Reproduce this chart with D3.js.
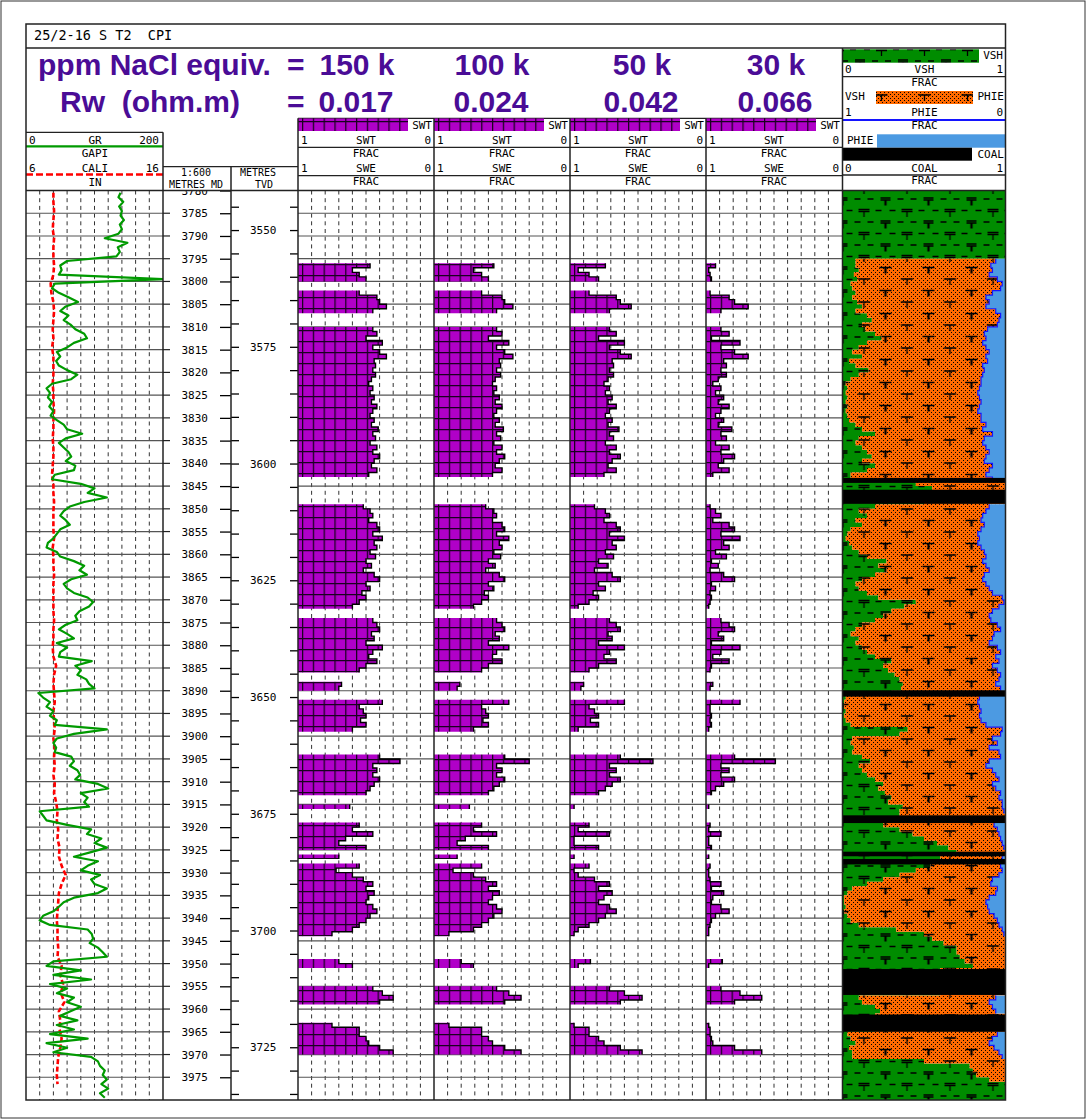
<!DOCTYPE html>
<html>
<head>
<meta charset="utf-8">
<title>25/2-16 S T2 CPI</title>
<script src="https://cdn.jsdelivr.net/npm/d3@7"></script>
<style>
  body { margin: 0; background: #fff; }
  svg text { font-family: "DejaVu Sans Mono", monospace; font-size: 11px; fill: #000; }
  svg text.big { font-family: "Liberation Sans", Arial, sans-serif; font-weight: bold; font-size: 30px; fill: #4a0c96; white-space: pre; }
  svg text.title { font-size: 13.5px; white-space: pre; }
  svg text.small { font-size: 10px; }
</style>
</head>
<body>
<svg id="chart" width="1087" height="1120"></svg>
<script>
var _ = null;
var DEPTH_TOP = 3780, DEPTH_BASE = 3980;

// header labels
var salinity = ["150 k", "100 k", "50 k", "30 k"];
var rw = ["0.017", "0.024", "0.042", "0.066"];

// MD / TVD tie points
var tvdTies = [3550, 3725];
var mdTies = [3788.7, 3968.4];

// GR (gapi), one value per metre from 3780
var gr = [
  138,135,142,136,140,138,143,137,140,135,
  115,148,134,137,132,60,50,52,48,200,
  42,38,48,62,76,58,50,62,55,65,
  72,85,89,70,60,45,50,44,48,60,
  75,66,38,30,35,32,38,34,40,36,
  45,55,60,82,58,48,55,62,66,58,
  72,70,42,38,80,100,90,118,85,64,
  55,50,58,64,50,45,40,32,30,45,
  50,70,85,78,89,66,55,60,70,90,
  98,92,78,72,75,58,48,60,70,45,
  60,50,48,96,72,80,75,88,92,100,
  18,25,35,30,40,35,45,42,118,70,
  45,40,44,42,66,70,64,75,79,72,
  105,120,80,90,85,92,20,25,30,60,
  95,89,110,100,118,95,70,105,90,80,
  108,95,100,118,105,70,55,48,40,25,
  20,35,90,96,98,93,105,112,118,40,
  30,80,40,95,35,60,45,70,60,80,
  65,50,75,45,70,35,90,30,60,40,
  95,105,108,115,112,118,110,120,108,115
];

// CALI (in), every 2 m from 3780
var cali = [
  8.0,8.0,8.05,8.0,7.95,8.05,8.0,8.0,8.05,8.0,
  7.8,7.85,8.0,8.05,8.0,7.95,8.0,7.9,8.0,8.0,
  8.0,7.95,8.0,8.0,8.05,8.0,8.0,7.95,8.0,8.0,
  7.95,7.9,8.0,8.0,8.05,8.0,8.0,8.0,8.05,7.95,
  8.0,8.0,8.05,8.0,8.0,8.0,8.0,8.05,8.0,8.0,
  7.95,8.0,8.2,8.05,8.0,8.05,8.1,8.0,8.05,8.1,
  8.0,8.1,8.05,8.1,8.0,8.1,8.05,8.2,8.3,8.25,
  8.35,8.3,8.45,8.4,8.6,8.9,8.6,8.4,8.35,8.3,
  8.25,8.3,8.3,8.35,8.3,8.6,8.5,8.7,8.55,8.8,
  8.4,8.5,8.45,8.6,8.5,8.35,8.3,8.25,8.3
];

// SWT (frac), one value per metre from 3780, for each water salinity
var swt150 = [
  _,_,_,_,_,_,_,_,_,_,
  _,_,_,_,_,_,.47,.60,.55,.50,
  _,_,.55,.42,.40,.35,.45,_,_,_,
  .45,.42,.50,.38,.45,.40,.35,.44,.43,.45,
  .43,.46,.48,.45,.47,.44,.46,.42,.45,.47,
  .44,.46,.41,.45,.43,.47,.42,.45,.40,.44,
  .46,.42,.48,_,_,_,_,_,_,.52,
  .47,.45,.48,.42,.40,.45,.38,.44,.42,.47,
  .43,.50,.46,.52,.44,.40,.50,.47,.53,.50,
  .55,.60,_,_,.45,.42,.40,.46,.44,.50,
  .38,.45,.48,.42,.50,.55,_,_,.68,.70,
  _,_,.38,.55,.52,.50,.54,.50,.60,_,
  _,_,_,_,.40,.25,.45,.42,.45,.40,
  .44,.47,.50,_,_,.62,_,_,_,.55,
  .60,.45,.65,.70,.50,_,.70,_,.55,.72,
  .60,.52,.45,.50,.44,.48,.50,.45,.42,.47,
  .50,.55,.60,.75,_,_,_,_,_,.70,
  .60,_,_,_,_,.45,.38,.30,.40,_,
  _,_,_,.75,.55,.55,.50,.48,.40,.30,
  _,_,_,_,_,_,_,_,_,_
];
var swt100 = [
  _,_,_,_,_,_,_,_,_,_,
  _,_,_,_,_,_,.56,.71,.65,.60,
  _,_,.65,.50,.48,.42,.54,_,_,_,
  .54,.50,.60,.45,.54,.48,.42,.52,.51,.54,
  .51,.55,.57,.54,.56,.52,.55,.50,.54,.56,
  .52,.55,.49,.54,.51,.56,.50,.54,.48,.52,
  .55,.50,.57,_,_,_,_,_,_,.62,
  .56,.54,.57,.50,.48,.54,.45,.52,.50,.56,
  .51,.60,.55,.62,.52,.48,.60,.56,.63,.60,
  .65,.71,_,_,.54,.50,.48,.55,.52,.60,
  .45,.54,.57,.50,.60,.65,_,_,.81,.83,
  _,_,.45,.65,.62,.60,.64,.60,.71,_,
  _,_,_,_,.48,.30,.54,.50,.54,.48,
  .52,.56,.60,_,_,.74,_,_,_,.65,
  .71,.54,.77,.83,.60,_,.83,_,.65,.86,
  .71,.62,.54,.60,.52,.57,.60,.54,.50,.56,
  .60,.65,.71,.89,_,_,_,_,_,.80,
  .71,_,_,_,_,.54,.45,.36,.48,_,
  _,_,_,.89,.65,.65,.60,.57,.48,.36,
  _,_,_,_,_,_,_,_,_,_
];
var swt50 = [
  _,_,_,_,_,_,_,_,_,_,
  _,_,_,_,_,_,.74,.94,.86,.79,
  _,_,.86,.66,.63,.55,.71,_,_,_,
  .71,.66,.79,.60,.71,.63,.55,.69,.68,.71,
  .68,.72,.75,.71,.74,.69,.72,.66,.71,.74,
  .69,.72,.64,.71,.68,.74,.66,.71,.63,.69,
  .72,.66,.75,_,_,_,_,_,_,.82,
  .74,.71,.75,.66,.63,.71,.60,.69,.66,.74,
  .68,.79,.72,.82,.69,.63,.79,.74,.83,.79,
  .86,.94,_,_,.71,.66,.63,.72,.69,.79,
  .60,.71,.75,.66,.79,.86,_,_,.90,.92,
  _,_,.60,.86,.82,.79,.85,.79,.94,_,
  _,_,_,_,.63,.39,.71,.66,.71,.63,
  .69,.74,.79,_,_,.97,_,_,_,.86,
  .94,.71,.97,.97,.79,_,.97,_,.86,.97,
  .94,.82,.71,.79,.69,.75,.79,.71,.66,.74,
  .79,.86,.94,.97,_,_,_,_,_,.85,
  .94,_,_,_,_,.71,.60,.47,.63,_,
  _,_,_,.97,.86,.86,.79,.75,.63,.47,
  _,_,_,_,_,_,_,_,_,_
];
var swt30 = [
  _,_,_,_,_,_,_,_,_,_,
  _,_,_,_,_,_,.93,.98,.97,.96,
  _,_,.97,.83,.79,.69,.89,_,_,_,
  .89,.83,.96,.75,.89,.79,.69,.87,.85,.89,
  .85,.91,.95,.89,.93,.87,.91,.83,.89,.93,
  .87,.91,.81,.89,.85,.93,.83,.89,.79,.87,
  .91,.83,.95,_,_,_,_,_,_,.97,
  .93,.89,.95,.83,.79,.89,.75,.87,.83,.93,
  .85,.96,.91,.97,.87,.79,.96,.93,.97,.96,
  .97,.98,_,_,.89,.83,.79,.91,.87,.96,
  .75,.89,.95,.83,.96,.97,_,_,.95,.97,
  _,_,.75,.97,.97,.96,.97,.96,.98,_,
  _,_,_,_,.79,.49,.89,.83,.89,.79,
  .87,.93,.96,_,_,.98,_,_,_,.97,
  .98,.89,.98,.98,.96,_,.98,_,.97,.98,
  .98,.97,.89,.96,.87,.95,.96,.89,.83,.93,
  .96,.97,.98,.98,_,_,_,_,_,.88,
  .98,_,_,_,_,.89,.75,.59,.79,_,
  _,_,_,.98,.97,.97,.96,.95,.79,.59,
  _,_,_,_,_,_,_,_,_,_
];

// VSH and PHIE (frac), one value per metre from 3780
var vsh = [
  1,1,1,1,1,1,1,1,1,1,
  1,1,1,1,1,.08,.08,.1,.07,.09,
  .05,.06,.08,.06,.09,.12,.08,.15,.18,.12,
  .14,.2,.24,.15,.1,.06,.12,.04,.08,.16,
  .1,.05,.02,.03,.02,.03,.02,.03,.02,.03,
  .04,.08,.12,.2,.1,.08,.12,.15,.18,.12,
  .2,.15,.05,.05,.45,.55,.5,.5,.5,.2,
  .1,.15,.08,.12,.05,.03,.02,.04,.06,.1,
  .15,.27,.22,.27,.2,.12,.08,.1,.15,.22,
  .45,.38,.3,.25,.2,.12,.08,.05,.1,.08,
  .12,.15,.2,.3,.25,.28,.32,.35,.37,.36,
  .3,.02,.01,.01,.02,.01,.02,.05,.4,.35,
  .06,.05,.07,.06,.12,.17,.1,.12,.15,.2,
  .25,.22,.26,.3,.28,.37,.35,.35,.3,.25,
  .35,.43,.5,.58,.65,.7,.6,.55,.54,.45,
  .35,.25,.15,.06,.03,.01,.01,.02,.01,.03,
  .05,.1,.33,.5,.55,.62,.7,.7,.72,.75,
  .8,.6,.6,.6,.6,.6,.6,.1,.12,.2,
  .23,.2,.2,.2,.2,.03,.05,.08,.04,.06,
  .06,.5,.78,.8,.82,.9,1,1,1,1
];
var phie = [
  0,0,0,0,0,0,0,0,0,0,
  0,0,0,0,0,.06,.09,.08,.1,.05,
  .02,.03,.08,.12,.1,.12,.06,.03,.04,.05,
  .11,.13,.12,.14,.12,.1,.12,.11,.14,.13,
  .14,.15,.15,.16,.17,.16,.15,.16,.17,.15,
  .15,.12,.14,.08,.13,.14,.12,.1,.12,.13,
  .08,.1,.12,.08,0,0,0,0,0,.1,
  .12,.14,.15,.13,.15,.17,.16,.17,.15,.13,
  .12,.14,.12,.1,.13,.14,.12,.1,.08,.02,
  .01,.04,.08,.1,.09,.05,.03,.07,.08,.1,
  .05,.03,.06,.04,.08,.05,.03,.04,.06,.03,
  0,.16,.17,.16,.15,.16,.15,.12,.02,.03,
  .08,.05,.1,.04,.03,.1,.12,.08,.06,.04,
  .08,.06,.03,.04,.02,.02,.01,0,0,.07,
  .05,.04,.03,.02,.01,0,.02,0,.03,.02,
  .04,.08,.09,.05,.06,.1,.12,.11,.1,.07,
  .05,.04,.02,.01,0,0,0,0,0,0,
  0,0,0,0,0,0,0,.06,.1,.08,
  .06,0,0,0,0,.05,.08,.1,.07,.04,
  .02,0,0,0,0,0,0,0,0,0
];

// coal beds (m MD)
var coalTop  = [3843.2, 3845.8, 3889.9, 3917.4, 3925.4, 3927.0, 3951.2, 3961.2];
var coalBase = [3844.3, 3848.9, 3891.3, 3919.1, 3926.4, 3928.2, 3956.9, 3965.0];

// ---------------------------------------------------------------------------
var svg = d3.select("#chart");
var plotTop = 190.5, plotBottom = 1100;
var y = d3.scaleLinear().domain([DEPTH_TOP, DEPTH_BASE]).range([plotTop, plotBottom]);
var tvdY = d3.scaleLinear().domain(tvdTies).range(mdTies.map(y));

var grLeft = 26, grRight = 163, mdRight = 231, tvdRight = 298;
var swLeft = [298, 434, 570, 706], swW = 136;
var lithLeft = 842.5, lithRight = 1005.5, lithW = lithRight - lithLeft;
var frameRight = 1005.5;
var ORANGE = "#ff6a00", GREEN = "#008c00", BLUE = "#4c9ae2";

svg.append("rect").attr("width", 1087).attr("height", 1120).attr("fill", "#fff");

var defs = svg.append("defs");

// magenta grid fill for SWT
var pSw = defs.append("pattern").attr("id", "swfill").attr("patternUnits", "userSpaceOnUse")
    .attr("x", 4).attr("width", 10.8).attr("height", 11);
pSw.append("rect").attr("width", 10.8).attr("height", 11).attr("fill", "#b000c8");
pSw.append("path").attr("d", "M0.6,0V11M0,0.6H10.8").attr("stroke", "#1a0020").attr("stroke-width", 1.3);

// shale: green with dashes and double-barred T
var pSh = defs.append("pattern").attr("id", "shale").attr("patternUnits", "userSpaceOnUse")
    .attr("width", 43).attr("height", 23);
pSh.append("rect").attr("width", 43).attr("height", 23).attr("fill", GREEN);
pSh.append("path")
    .attr("d", "M16,2.5H27M16,4.5H27M21.5,4.5V10M4,3.5H10M33,3.5H39" +
               "M-6,14H5M38,14H49M-6,16H5M38,16H49M0.5,16V21.5M42.5,16V21.5M12,15H18M25,15H31")
    .attr("stroke", "#000").attr("stroke-width", 1.3).attr("fill", "none");

// sand: dots + single T (two dot patterns so the dots land on whole pixels)
function dotPattern(id, off) {
  var p = defs.append("pattern").attr("id", id).attr("patternUnits", "userSpaceOnUse")
      .attr("x", off).attr("width", 4).attr("height", 4);
  p.append("rect").attr("x", 0).attr("y", 0).attr("width", 1).attr("height", 1).attr("fill", "#000");
  p.append("rect").attr("x", 2).attr("y", 2).attr("width", 1).attr("height", 1).attr("fill", "#000");
}
dotPattern("dots", 0);
dotPattern("dotsHalf", 0.5);
var pT = defs.append("pattern").attr("id", "sandT").attr("patternUnits", "userSpaceOnUse")
    .attr("width", 43).attr("height", 23);
pT.append("path")
    .attr("d", "M15.5,3H27.5M21.5,3V9M-6,14.5H6M37,14.5H49M0.5,14.5V20.5M42.5,14.5V20.5")
    .attr("stroke", "#000").attr("stroke-width", 1.3).attr("fill", "none");

// ---------------------------------------------------------------------------
// grids
var gridDepths = d3.range(3785, DEPTH_BASE, 5);
function grid(left, width) {
  var g = svg.append("g").attr("transform", "translate(" + left + ",0)");
  var gx = d3.scaleLinear().domain([0, 10]).range([0, width]);
  g.selectAll("line.v").data(d3.range(1, 10)).join("line").attr("class", "v")
    .attr("x1", function (i) { return gx(i); }).attr("x2", function (i) { return gx(i); })
    .attr("y1", plotTop).attr("y2", plotBottom)
    .attr("stroke", "#333").attr("stroke-width", 1).attr("stroke-dasharray", "4,3.7");
  g.selectAll("line.h").data(gridDepths).join("line").attr("class", "h")
    .attr("x1", 0).attr("x2", width)
    .attr("y1", function (d) { return y(d); }).attr("y2", function (d) { return y(d); })
    .attr("stroke", "#555").attr("stroke-width", 1.2);
}
grid(grLeft, grRight - grLeft);
swLeft.forEach(function (l) { grid(l, swW); });

// GR / CALI
var xGR = d3.scaleLinear().domain([0, 200]).range([grLeft, grRight]).clamp(true);
var xCali = d3.scaleLinear().domain([6, 16]).range([grLeft, grRight]);
defs.append("clipPath").attr("id", "grclip").append("rect")
    .attr("x", grLeft).attr("y", plotTop).attr("width", grRight - grLeft).attr("height", plotBottom - plotTop);
var gGR = svg.append("g").attr("clip-path", "url(#grclip)");
gGR.append("path").datum(cali)
    .attr("d", d3.line().x(function (v) { return xCali(v); })
                        .y(function (v, i) { return y(DEPTH_TOP + 2 * i + 0.5); }))
    .attr("fill", "none").attr("stroke", "#ff0000").attr("stroke-width", 2.6).attr("stroke-dasharray", "5,2.5");
gGR.append("path").datum(gr)
    .attr("d", d3.line().x(function (v) { return xGR(v); })
                        .y(function (v, i) { return y(DEPTH_TOP + i + 0.5); }))
    .attr("fill", "none").attr("stroke", "#009a00").attr("stroke-width", 2.2).attr("stroke-linejoin", "round");

// SW tracks
function stepPts(values) {
  var pts = [];
  values.forEach(function (v, i) {
    var d0 = DEPTH_TOP + i;
    if (v == null) { pts.push({ d: d0, v: null }); return; }
    pts.push({ d: d0, v: v }, { d: d0 + 1, v: v });
  });
  return pts;
}
var xSw = d3.scaleLinear().domain([1, 0]).range([0, swW]);
[swt150, swt100, swt50, swt30].forEach(function (vals, k) {
  var g = svg.append("g").attr("transform", "translate(" + swLeft[k] + ",0)");
  var pts = stepPts(vals);
  var def = function (p) { return p.v != null; };
  g.append("path").datum(pts)
    .attr("d", d3.area().defined(def).y(function (p) { return y(p.d); })
                 .x0(0).x1(function (p) { return xSw(p.v); }))
    .attr("fill", "url(#swfill)");
  g.append("path").datum(pts)
    .attr("d", d3.line().defined(def).x(function (p) { return xSw(p.v); }).y(function (p) { return y(p.d); }))
    .attr("fill", "none").attr("stroke", "#000").attr("stroke-width", 1.4);
});

// lithology
var xL = d3.scaleLinear().domain([0, 1]).range([0, lithW]);
var lpts = [];
vsh.forEach(function (v, i) {
  var d0 = DEPTH_TOP + i;
  lpts.push({ d: d0, vsh: v, phie: phie[i] }, { d: d0 + 1, vsh: v, phie: phie[i] });
});
var gL = svg.append("g").attr("transform", "translate(" + lithLeft + ",0)");
var py = function (p) { return y(p.d); };
var phiX = function (p) { return Math.max(xL(p.vsh), xL(1 - p.phie)); };
gL.append("path").datum(lpts)
  .attr("d", d3.area().y(py).x0(0).x1(function (p) { return xL(p.vsh); }))
  .attr("fill", "url(#shale)");
var sandArea = d3.area().y(py).x0(function (p) { return xL(p.vsh); }).x1(phiX);
[ORANGE, "url(#dotsHalf)", "url(#sandT)"].forEach(function (f) {
  gL.append("path").datum(lpts).attr("d", sandArea).attr("fill", f);
});
gL.append("path").datum(lpts)
  .attr("d", d3.area().y(py).x0(phiX).x1(lithW))
  .attr("fill", BLUE);
gL.append("path").datum(lpts)
  .attr("d", d3.line().defined(function (p) { return p.phie > 0 && p.vsh < 1 - p.phie; })
               .x(phiX).y(py))
  .attr("fill", "none").attr("stroke", "#1414ff").attr("stroke-width", 1.2);
gL.selectAll("rect.coal").data(d3.range(coalTop.length)).join("rect").attr("class", "coal")
  .attr("x", 0).attr("width", lithW)
  .attr("y", function (i) { return y(coalTop[i]); })
  .attr("height", function (i) { return y(coalBase[i]) - y(coalTop[i]); })
  .attr("fill", "#000");

// depth axes
var gmd = svg.append("g").attr("transform", "translate(" + mdRight + ",0)")
  .call(d3.axisLeft(y).tickValues(d3.range(DEPTH_TOP, DEPTH_BASE, 5)).tickSize(11).tickPadding(12)
          .tickFormat(d3.format("d")));
gmd.select(".domain").remove();
svg.append("g").selectAll("line").data(gridDepths).join("line")
  .attr("x1", grRight).attr("x2", grRight + 7)
  .attr("y1", function (d) { return y(d); }).attr("y2", function (d) { return y(d); })
  .attr("stroke", "#222").attr("stroke-width", 1.2);

var tvdTicks = d3.range(3545, 3740, 5);
var gtvd = svg.append("g").attr("transform", "translate(" + mdRight + ",0)")
  .call(d3.axisRight(tvdY).tickValues(tvdTicks).tickSize(8).tickPadding(11)
          .tickFormat(function (t) { return t % 25 === 0 ? t : ""; }));
gtvd.select(".domain").remove();
var gtvd2 = svg.append("g").attr("transform", "translate(" + tvdRight + ",0)")
  .call(d3.axisLeft(tvdY).tickValues(tvdTicks).tickSize(8).tickFormat(""));
gtvd2.select(".domain").remove();
svg.selectAll(".tick line").attr("stroke-width", 1.3);

// ---------------------------------------------------------------------------
// header
var hdr = svg.append("g");
hdr.append("rect").attr("x", 163).attr("y", 150).attr("width", 135).attr("height", 40).attr("fill", "#fff");

function txt(x, yy, s, anchor, cls) {
  return hdr.append("text").attr("x", x).attr("y", yy).attr("text-anchor", anchor || "start")
    .attr("class", cls || null).text(s);
}
function hline(x1, x2, yy, color, w, dash) {
  return hdr.append("line").attr("x1", x1).attr("x2", x2).attr("y1", yy).attr("y2", yy)
    .attr("stroke", color || "#222").attr("stroke-width", w || 1.3).attr("stroke-dasharray", dash || null);
}
function vline(x, y1, y2) {
  return hdr.append("line").attr("x1", x).attr("x2", x).attr("y1", y1).attr("y2", y2)
    .attr("stroke", "#222").attr("stroke-width", 1.5);
}

txt(34, 39.5, "25/2-16 S T2  CPI", "start", "title");
txt(38, 75, "ppm NaCl equiv.", "start", "big");
txt(287, 75, "=", "start", "big");
txt(60, 111.7, "Rw  (ohm.m)", "start", "big");
txt(287, 111.7, "=", "start", "big");
var bigCenters = [357, 492, 642, 776];
salinity.forEach(function (s, k) { txt(bigCenters[k], 75, s, "middle", "big"); });
rw.forEach(function (s, k) { txt(bigCenters[k] - 1, 111.7, s, "middle", "big"); });

// GR header
hline(grLeft, grRight, 132.3);
txt(29, 143.5, "0"); txt(95, 143.5, "GR", "middle"); txt(159, 143.5, "200", "end");
hline(grLeft, grRight, 146.3, "#009a00", 2.2);
txt(95, 157, "GAPI", "middle");
txt(29, 172, "6"); txt(95, 172, "CALI", "middle"); txt(159, 172, "16", "end");
hline(grLeft, grRight, 174.5, "#ff0000", 2.4, "7,3");
txt(95, 185.5, "IN", "middle");

// MD / TVD header
hline(grRight, tvdRight, 166.7);
txt(196, 175.5, "1:600", "middle", "small");
txt(196, 187.5, "METRES MD", "middle", "small");
txt(258, 175.5, "METRES", "middle", "small");
txt(264, 187.5, "TVD", "middle", "small");

// SW headers
hline(swLeft[0], lithLeft, 118.3);
swLeft.forEach(function (l) {
  var r = l + swW;
  hdr.append("g").attr("transform", "translate(" + l + ",0)")
    .append("rect").attr("x", 0).attr("y", 118.5).attr("width", 110).attr("height", 12.5).attr("fill", "url(#swfill)");
  txt(r - 2, 129, "SWT", "end");
  txt(l + 3, 143.5, "1"); txt(l + 68, 143.5, "SWT", "middle"); txt(r - 3, 143.5, "0", "end");
  hline(l, r, 147.3);
  txt(l + 68, 156.5, "FRAC", "middle");
  txt(l + 3, 172, "1"); txt(l + 68, 172, "SWE", "middle"); txt(r - 3, 172, "0", "end");
  hline(l, r, 175.7);
  txt(l + 68, 185, "FRAC", "middle");
});

// lithology header
var lc = lithLeft + 82;
hdr.append("rect").attr("x", lithLeft + 0.5).attr("y", 49.3).attr("width", 136).attr("height", 13.4).attr("fill", "url(#shale)");
txt(1003, 58.5, "VSH", "end");
txt(845, 72.7, "0"); txt(lc, 72.7, "VSH", "middle"); txt(1003, 72.7, "1", "end");
hline(lithLeft, lithRight, 76.7);
txt(lc, 85.5, "FRAC", "middle");
txt(845, 100, "VSH");
[ORANGE, "url(#dots)", "url(#sandT)"].forEach(function (f) {
  hdr.append("rect").attr("x", 876).attr("y", 91).attr("width", 97).attr("height", 13).attr("fill", f);
});
txt(1004, 100, "PHIE", "end");
txt(845, 116, "1"); txt(lc, 116, "PHIE", "middle"); txt(1003, 116, "0", "end");
hline(lithLeft, lithRight, 120, "#1414ff", 1.8);
txt(lc, 128.5, "FRAC", "middle");
txt(847, 143.5, "PHIE");
hdr.append("rect").attr("x", 877).attr("y", 134.3).attr("width", lithRight - 877).attr("height", 13.4).attr("fill", BLUE);
hdr.append("rect").attr("x", lithLeft).attr("y", 147.7).attr("width", 129.5).attr("height", 13).attr("fill", "#000");
txt(1004, 157.5, "COAL", "end");
txt(845, 171.7, "0"); txt(lc, 171.7, "COAL", "middle"); txt(1003, 171.7, "1", "end");
hline(lithLeft, lithRight, 175);
txt(lc, 183.5, "FRAC", "middle");

// track frame
hline(grLeft, frameRight, 48, "#222", 1.5);
hline(grLeft, frameRight, plotTop, "#222", 1.5);
vline(grRight, 132.3, plotBottom);
vline(mdRight, 166.7, plotBottom);
vline(tvdRight, 118.3, plotBottom);
swLeft.slice(1).forEach(function (l) { vline(l, 118.3, plotBottom); });
vline(lithLeft, 48, plotBottom);
hdr.append("rect").attr("x", grLeft).attr("y", 24).attr("width", frameRight - grLeft).attr("height", plotBottom - 24)
  .attr("fill", "none").attr("stroke", "#222").attr("stroke-width", 1.5);
hdr.append("rect").attr("x", 1).attr("y", 1).attr("width", 1084).attr("height", 1117)
  .attr("fill", "none").attr("stroke", "#333").attr("stroke-width", 1);
</script>
</body>
</html>
